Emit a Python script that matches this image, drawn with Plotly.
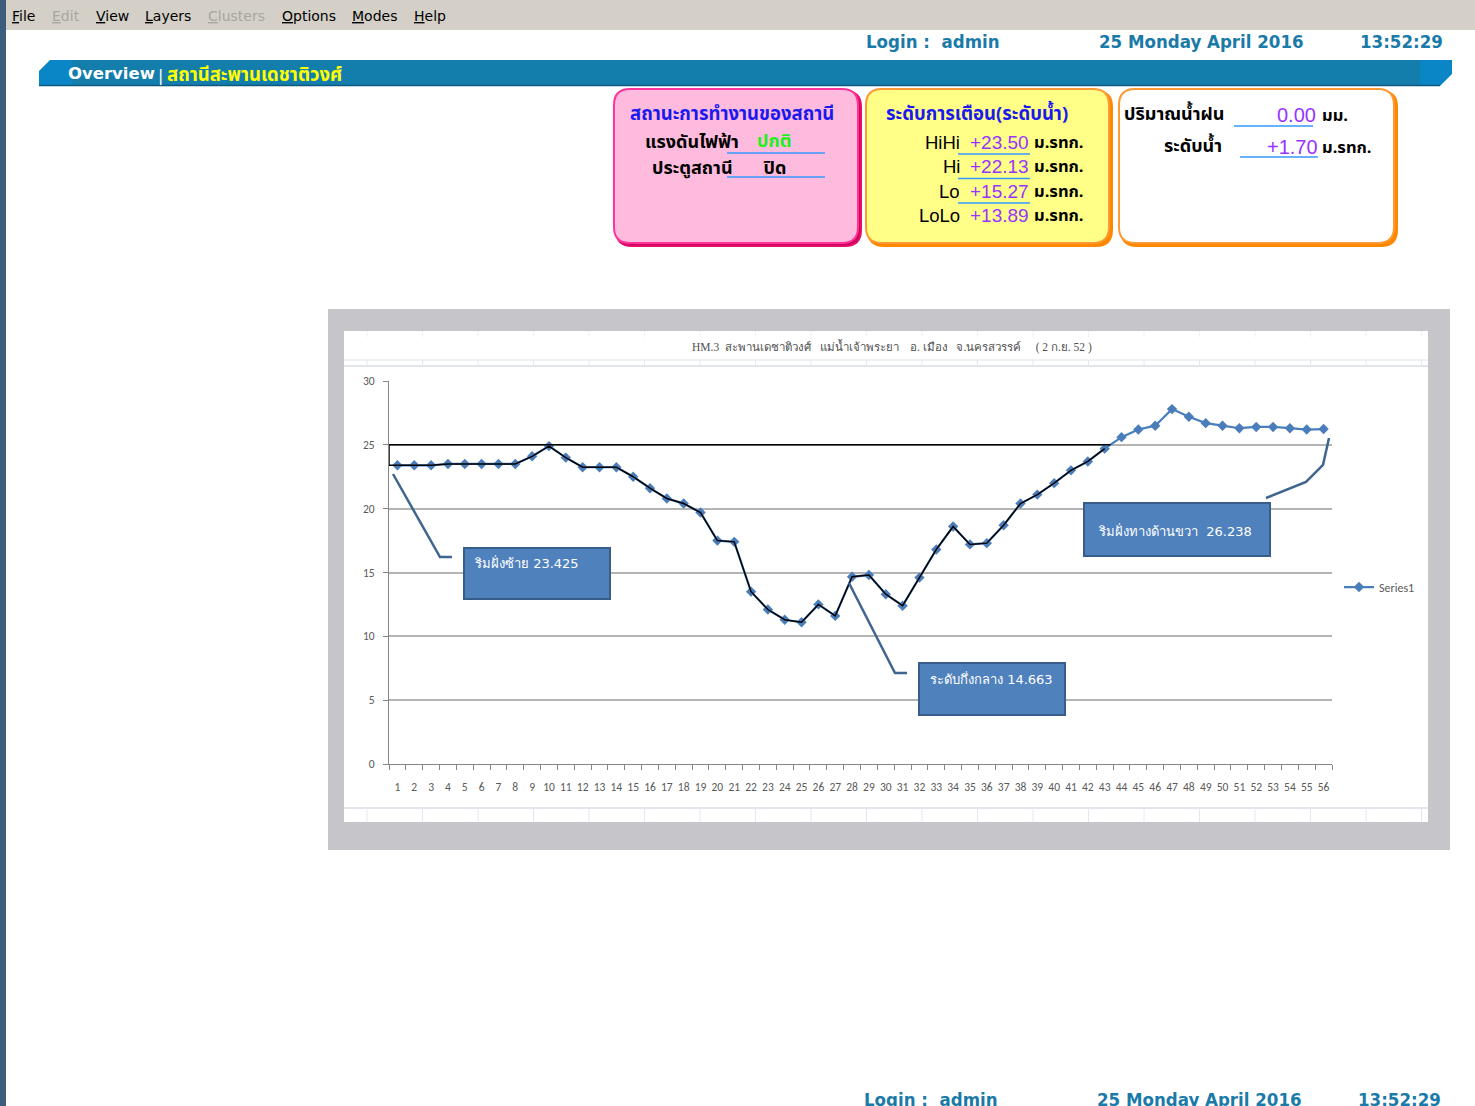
import plotly.graph_objects as go

W, H = 1475, 1106

# ---------------- data ----------------
categories = list(range(1, 57))
water_level = [23.4, 23.4, 23.4, 23.5, 23.5, 23.5, 23.5, 23.5, 24.1, 24.9,
               24.0, 23.25, 23.25, 23.25, 22.5, 21.6, 20.8, 20.4, 19.7, 17.5,
               17.4, 13.5, 12.1, 11.3, 11.1, 12.5, 11.6, 14.663, 14.8, 13.3,
               12.4, 14.6, 16.8, 18.6, 17.2, 17.3, 18.7, 20.4, 21.1, 22.0,
               23.0, 23.7, 24.7, 25.6, 26.2, 26.5, 27.8, 27.2, 26.7, 26.5,
               26.3, 26.4, 26.4, 26.3, 26.2, 26.238]
tick_labels = [str(c) for c in categories]
y_ticks = [0, 5, 10, 15, 20, 25, 30]
bank_level = 25          # hand-drawn reference rectangle top
overlay_last = 43        # hand-drawn black overlay follows points 1..43
overlay_end_x = 43.35

chart_title = "HM.3  สะพานเดชาติวงศ์   แม่น้ำเจ้าพระยา    อ. เมือง   จ.นครสวรรค์     ( 2 ก.ย. 52 )"
callouts = ["ริมฝั่งซ้าย 23.425", "ระดับกึ่งกลาง 14.663", "ริมฝั่งทางด้านขวา  26.238"]

menu_items = [("File", False), ("Edit", True), ("View", False), ("Layers", False),
              ("Clusters", True), ("Options", False), ("Modes", False), ("Help", False)]
menu_x = [11, 51, 95, 144, 207, 281, 351, 413]

warn_labels = ["HiHi", "Hi", "Lo", "LoLo"]
warn_values = ["+23.50", "+22.13", "+15.27", "+13.89"]


def X(p):
    return p / W


def Y(p):
    return 1 - p / H


shapes = []
annotations = []


def rect(x0, y0, x1, y1, fill, line=None, lw=0):
    shapes.append(dict(type="rect", xref="paper", yref="paper", x0=X(x0), x1=X(x1),
                       y0=Y(y1), y1=Y(y0), fillcolor=fill, layer="below",
                       line=dict(color=line or fill, width=lw)))


def seg(x0, y0, x1, y1, color, w=1, layer="below"):
    shapes.append(dict(type="line", xref="paper", yref="paper", x0=X(x0), x1=X(x1),
                       y0=Y(y0), y1=Y(y1), layer=layer, line=dict(color=color, width=w)))


def poly(pts, fill=None, line=None, lw=1, layer="below"):
    d = "M " + " L ".join(f"{X(a):.5f},{Y(b):.5f}" for a, b in pts) + (" Z" if fill else "")
    shapes.append(dict(type="path", xref="paper", yref="paper", path=d, layer=layer,
                       fillcolor=fill or "rgba(0,0,0,0)",
                       line=dict(color=line or "rgba(0,0,0,0)", width=lw)))


def rrect(x0, y0, x1, y1, r, fill, line, lw):
    def P(a, b):
        return f"{X(a):.5f},{Y(b):.5f}"
    d = (f"M {P(x0 + r, y0)} L {P(x1 - r, y0)} Q {P(x1, y0)} {P(x1, y0 + r)} "
         f"L {P(x1, y1 - r)} Q {P(x1, y1)} {P(x1 - r, y1)} L {P(x0 + r, y1)} "
         f"Q {P(x0, y1)} {P(x0, y1 - r)} L {P(x0, y0 + r)} Q {P(x0, y0)} {P(x0 + r, y0)} Z")
    shapes.append(dict(type="path", xref="paper", yref="paper", path=d, layer="below",
                       fillcolor=fill, line=dict(color=line, width=lw)))


THAI = "Tahoma, 'Noto Sans Thai', 'Loma', 'Garuda', sans-serif"
HDR = "'Liberation Sans Narrow', 'DejaVu Sans Condensed', Roboto, sans-serif"
NUM = "'Liberation Sans', Arial, sans-serif"


def text(t, x, y, size, color, anchor="left", bold=False, family=THAI):
    annotations.append(dict(text=f"<b>{t}</b>" if bold else t, x=X(x), y=Y(y),
                            xref="paper", yref="paper", xanchor=anchor, yanchor="middle",
                            showarrow=False, borderpad=0,
                            font=dict(size=size, color=color, family=family)))


# ---------------- window chrome ----------------
rect(0, 0, W, 30, "#d4d0c8")
rect(0, 0, 6, H, "#3e5c7c")
for (label, disabled), mx in zip(menu_items, menu_x):
    t = f"<span style='text-decoration:underline'>{label[0]}</span>{label[1:]}"
    text(t, mx, 16, 14, "#a8a6a0" if disabled else "#000000", family="Tahoma, 'DejaVu Sans', sans-serif")

# header line
for t, x in [("Login :  admin", 865), ("25 Monday April 2016", 1098), ("13:52:29", 1359)]:
    text(t, x, 42, 18.5, "#1a7aa8", bold=True, family=HDR)
    text(t, x - 2, 1099, 18.5, "#1a7aa8", bold=True, family=HDR)

# banner
poly([(39, 86), (39, 71), (50, 60), (1452, 60), (1452, 74), (1440, 86)], fill="#0a86c6")
rect(72, 60, 1420, 86, "#137dac")
seg(39, 85.5, 1440, 85.5, "#0c5a80", 1.5)
text("Overview", 67, 74, 16.5, "#ffffff", bold=True, family="'DejaVu Sans', sans-serif")
text("|", 157, 75, 16, "#ffffff", family="'DejaVu Sans', sans-serif")
text("สถานีสะพานเดชาติวงศ์", 166, 75, 18.5, "#ffff00", bold=True)

# status boxes
rrect(616, 91, 861, 246, 16, "#d0005a", "#e0106a", 2)
rrect(614, 89, 858, 243, 16, "#ffbbdd", "#ff3399", 2)
rrect(868, 91, 1112, 246, 16, "#ff8800", "#ff8800", 2)
rrect(866, 89, 1109, 243, 16, "#ffff88", "#ff9933", 2)
rrect(1121, 91, 1397, 246, 16, "#ff8800", "#ff8800", 2)
rrect(1119, 89, 1394, 243, 16, "#ffffff", "#ff9933", 2)

text("สถานะการทำงานของสถานี", 732, 114, 18.5, "#1a1aee", anchor="center", bold=True)
text("แรงดันไฟฟ้า", 740, 143, 18, "#000000", anchor="right", bold=True)
text("ปกติ", 756, 141, 18, "#22ee22", bold=True)
seg(727, 153, 825, 153, "#3399ff", 1.5)
text("ประตูสถานี", 734, 168, 18, "#000000", anchor="right", bold=True)
text("ปิด", 762, 168, 18, "#000000", bold=True)
seg(727, 177, 825, 177, "#3399ff", 1.5)

text("ระดับการเตือน(ระดับน้ำ)", 885, 114, 18.5, "#1a1aee", bold=True)
for i, (lab, val) in enumerate(zip(warn_labels, warn_values)):
    yy = 142 + i * 24.5
    text(lab, 961, yy, 18.5, "#000000", anchor="right", family=NUM)
    text(val, 1030, yy, 19, "#9933ff", anchor="right", family=NUM)
    text("ม.รทก.", 1033, yy, 16.5, "#000000", bold=True)
    if i < 3:
        seg(958, yy + 12, 1030, yy + 12, "#3399ff", 1.5)

text("ปริมาณน้ำฝน", 1123, 114, 18, "#000000", bold=True)
text("0.00", 1317, 115, 20, "#9933ff", anchor="right", family=NUM)
text("มม.", 1321, 115, 16.5, "#000000", bold=True)
seg(1234, 126, 1313, 126, "#3399ff", 1.5)
text("ระดับน้ำ", 1223, 146, 18, "#000000", anchor="right", bold=True)
text("+1.70", 1319, 147, 20, "#9933ff", anchor="right", family=NUM)
text("ม.รทก.", 1321, 147, 16.5, "#000000", bold=True)
seg(1240, 157, 1318, 157, "#3399ff", 1.5)

# ---------------- chart frame ----------------
rect(328, 309, 1450, 850, "#c6c5c9")
rect(344, 331, 1428, 822, "#ffffff")
seg(344, 360, 1428, 360, "#dfe4ea", 1)
seg(344, 366, 1428, 366, "#d8dde4", 1.5)
seg(344, 808, 1428, 808, "#d8dde4", 1.5)
for k in range(20):
    vx = 367 + 55.5 * k
    if vx < 1428:
        seg(vx, 331, vx, 337, "#eef0f4", 1)
        seg(vx, 360, vx, 366, "#e4e8ee", 1)
        seg(vx, 808, vx, 822, "#e4e8ee", 1)
text(chart_title, 892, 347, 11.5, "#505050", anchor="center",
     family="'Liberation Serif', 'DejaVu Serif', serif")

# ---------------- traces ----------------
fig = go.Figure()
fig.add_trace(go.Scatter(x=categories, y=water_level, mode="lines+markers", name="Series1",
                         line=dict(color="#4a7ebb", width=2.25),
                         marker=dict(symbol="diamond", size=8, color="#4a7ebb")))
fig.add_trace(go.Scatter(x=categories[:overlay_last], y=water_level[:overlay_last], mode="lines",
                         line=dict(color="#000000", width=1.5), showlegend=False, hoverinfo="skip"))
# invisible trace to drive tick labels on overlay axis
fig.add_trace(go.Scatter(x=categories, y=water_level, xaxis="x2", mode="markers",
                         marker=dict(opacity=0), showlegend=False, hoverinfo="skip"))

# hand-drawn black reference outline
shapes.append(dict(type="line", xref="x", yref="y", x0=0.5, x1=overlay_end_x, y0=bank_level,
                   y1=bank_level, line=dict(color="#000000", width=1.5)))
shapes.append(dict(type="line", xref="x", yref="y", x0=0.5, x1=0.5, y0=water_level[0],
                   y1=bank_level, line=dict(color="#000000", width=1.5)))
shapes.append(dict(type="line", xref="x", yref="y", x0=0.5, x1=1, y0=water_level[0],
                   y1=water_level[0], line=dict(color="#000000", width=1.5)))

# callouts
LEAD = "#3f6590"
poly([(393, 474), (440, 557), (452, 557)], line=LEAD, lw=2.5, layer="above")
poly([(849, 583), (895, 673), (907, 673)], line=LEAD, lw=2.5, layer="above")
poly([(1266, 498), (1306, 482), (1323, 465), (1329, 438)], line=LEAD, lw=2.5, layer="above")
for (x0, y0, x1, y1), t, (tx, ty) in zip(
        [(464, 548, 610, 599), (919, 663, 1065, 715), (1084, 503, 1270, 556)], callouts,
        [(473, 563), (929, 679), (1097, 531)]):
    shapes.append(dict(type="rect", xref="paper", yref="paper", x0=X(x0), x1=X(x1), y0=Y(y1),
                       y1=Y(y0), fillcolor="#4f81bd", line=dict(color="#385d8a", width=2),
                       layer="above"))
    text(t, tx, ty, 13, "#ffffff", family="Tahoma, 'DejaVu Sans', sans-serif")

axis_font = dict(size=11.5, color="#595959", family="Calibri, 'Liberation Sans', Arial, sans-serif")
fig.update_layout(
    width=W, height=H, margin=dict(l=0, r=0, t=0, b=0, pad=0, autoexpand=False),
    paper_bgcolor="#ffffff", plot_bgcolor="rgba(0,0,0,0)",
    shapes=shapes, annotations=annotations,
    xaxis=dict(domain=[X(389), X(1332)], range=[0.5, 56.5], tickmode="array",
               tickvals=[c - 0.5 for c in categories] + [categories[-1] + 0.5],
               showticklabels=False, ticks="outside", ticklen=5, tickcolor="#868686",
               showgrid=False, zeroline=False, showline=True, linecolor="#868686",
               linewidth=1, fixedrange=True, automargin=False),
    xaxis2=dict(overlaying="x", anchor="y", side="bottom", range=[0.5, 56.5],
                tickmode="array", tickvals=categories, ticktext=tick_labels, ticks="",
                tickfont=axis_font, showgrid=False, zeroline=False, showline=False,
                ticklabelstandoff=14, fixedrange=True, automargin=False),
    yaxis=dict(domain=[Y(764), Y(381)], range=[0, 30], tickmode="array", tickvals=y_ticks,
               ticks="outside", ticklen=5, tickcolor="#868686", tickfont=axis_font,
               showgrid=True, gridcolor="#b4b4b4", gridwidth=1.5, zeroline=False,
               showline=True, linecolor="#868686", linewidth=1, ticklabelstandoff=6,
               fixedrange=True, automargin=False),
    legend=dict(x=X(1339), y=Y(587), xanchor="left", yanchor="middle",
                bgcolor="rgba(0,0,0,0)", font=dict(size=12, color="#595959",
                family="Calibri, 'Liberation Sans', Arial, sans-serif"), itemwidth=30),
    showlegend=True,
)

fig.write_html("out.html", config={"displayModeBar": False},
               post_script="document.body.style.margin='0px';document.body.style.padding='0px';"
                           "document.documentElement.style.overflow='hidden';")
